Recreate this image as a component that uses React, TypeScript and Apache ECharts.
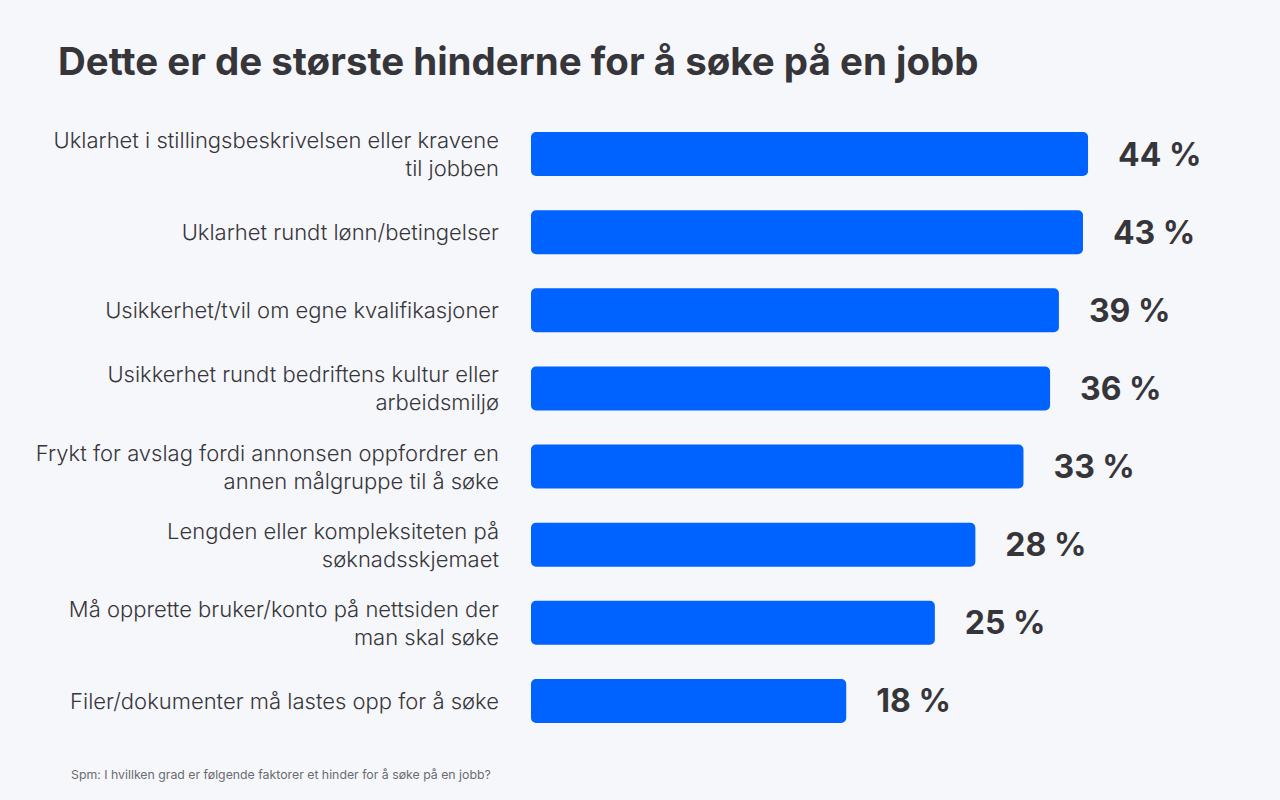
import React, { useEffect, useRef } from "react";
import * as echarts from "echarts";

const categories = [
  "Uklarhet i stillingsbeskrivelsen eller kravene\ntil jobben",
  "Uklarhet rundt lønn/betingelser",
  "Usikkerhet/tvil om egne kvalifikasjoner",
  "Usikkerhet rundt bedriftens kultur eller\narbeidsmiljø",
  "Frykt for avslag fordi annonsen oppfordrer en\nannen målgruppe til å søke",
  "Lengden eller kompleksiteten på\nsøknadsskjemaet",
  "Må opprette bruker/konto på nettsiden der\nman skal søke",
  "Filer/dokumenter må lastes opp for å søke",
];

// percentages printed next to each bar
const percentLabels = [44, 43, 39, 36, 33, 28, 25, 18];

// bar lengths as drawn in the picture (same unit as the 44 % bar)
const barValues = [44.0, 43.6, 41.7, 41.0, 38.9, 35.1, 31.9, 24.9];

const titleText = "Dette er de største hinderne for å søke på en jobb";
const footnoteText =
  "Spm: I hvillken grad er følgende faktorer et hinder for å søke på en jobb?";

export default function App() {
  const ref = useRef<HTMLDivElement>(null);

  useEffect(() => {
    document.body.style.margin = "0";
    if (!ref.current) return;
    const chart = echarts.init(ref.current, undefined, { renderer: "svg" });
    chart.setOption({
      animation: false,
      backgroundColor: "#f6f7fb",
      title: [
        {
          text: titleText,
          left: 53,
          top: 36,
          padding: 5,
          textStyle: {
            fontFamily: "Inter",
            fontSize: 38.5,
            fontWeight: "bold",
            color: "#36363a",
          },
        },
        {
          text: footnoteText,
          left: 66,
          top: 763,
          textStyle: {
            fontFamily: "Inter",
            fontSize: 12.3,
            fontWeight: "normal",
            color: "#6b6b70",
          },
        },
      ],
      grid: {
        left: 531,
        top: 115,
        width: 633,
        height: 625,
        containLabel: false,
      },
      xAxis: {
        type: "value",
        min: 0,
        max: 50,
        show: false,
      },
      yAxis: {
        type: "category",
        inverse: true,
        data: categories,
        axisLine: { show: false },
        axisTick: { show: false },
        splitLine: { show: false },
        axisLabel: {
          margin: 32,
          align: "right",
          fontFamily: "Inter",
          fontSize: 22,
          fontWeight: 300,
          lineHeight: 28,
          color: "#36363a",
        },
      },
      series: [
        {
          type: "bar",
          data: barValues,
          barWidth: 44,
          itemStyle: { color: "#0062ff", borderRadius: 5 },
          label: {
            show: true,
            position: "right",
            distance: 30,
            formatter: (p: any) => percentLabels[p.dataIndex] + " %",
            fontFamily: "Inter",
            fontSize: 32,
            fontWeight: "bold",
            color: "#36363a",
          },
        },
      ],
    });
    return () => chart.dispose();
  }, []);

  return <div ref={ref} style={{ width: 1280, height: 800 }} />;
}
